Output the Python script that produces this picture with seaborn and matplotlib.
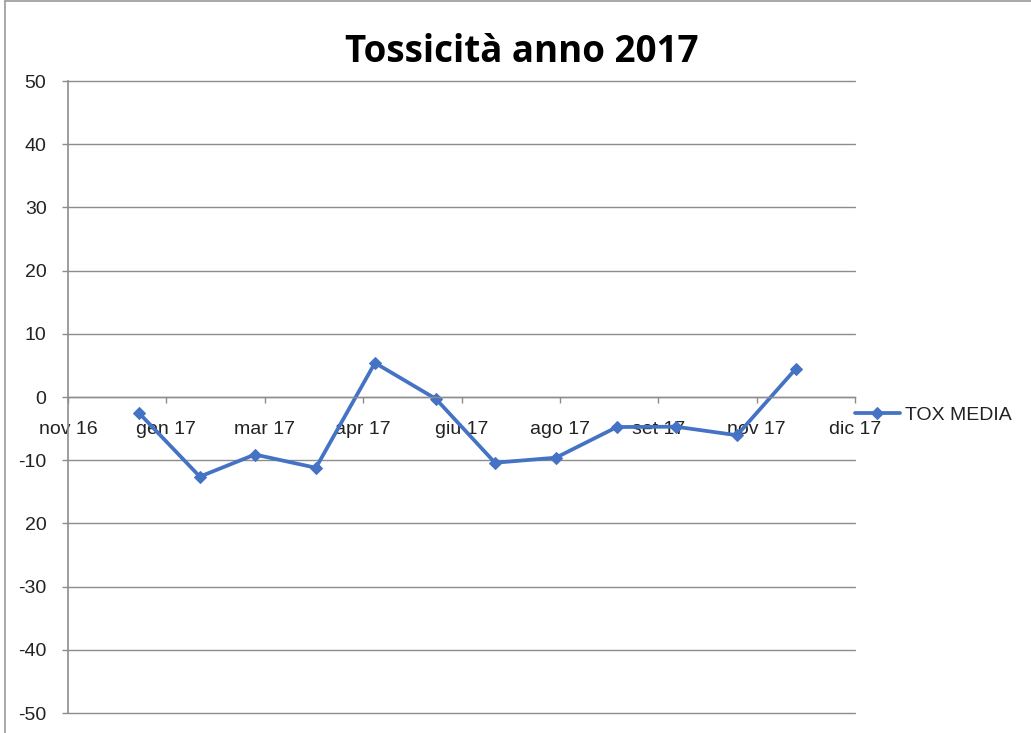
import numpy as np
import pandas as pd
import matplotlib
matplotlib.use("Agg")
import matplotlib.pyplot as plt
import matplotlib.dates as mdates
import seaborn as sns

# ---- data ----
months = pd.date_range("2017-01-01", "2017-12-01", freq="MS")
tox_media = [-2.5, -12.6, -9.1, -11.2, 5.4, -0.3, -10.4, -9.6, -4.75, -4.7, -6.05, 4.5]
series_name = "TOX MEDIA"
x_tick_labels = ["nov 16", "gen 17", "mar 17", "apr 17", "giu 17", "ago 17", "set 17", "nov 17", "dic 17"]
y_ticks = [-50, -40, -30, -20, -10, 0, 10, 20, 30, 40, 50]
y_tick_labels = ["-50", "-40", "-30", "20", "-10", "0", "10", "20", "30", "40", "50"]
axis_start = pd.Timestamp("2016-11-26")
tick_step_days = 50
title = "Tossicità anno 2017"

sns.set_theme(style="white")
plt.rcParams["font.family"] = ["Liberation Sans", "DejaVu Sans"]

W, H = 1031, 733
fig = plt.figure(figsize=(W / 100, H / 100), dpi=100)
ax = fig.add_axes([68 / W, (H - 713) / H, (855 - 68) / W, (713 - 81) / H])

df = pd.DataFrame({"date": months, "value": tox_media})
sns.lineplot(data=df, x="date", y="value", ax=ax, color="#4472C4", linewidth=2.7,
             marker="D", markersize=6.5, markeredgecolor="#4472C4", label=series_name)

tick_dates = [axis_start + pd.Timedelta(days=tick_step_days * i) for i in range(len(x_tick_labels))]
ax.set_xlim(tick_dates[0], tick_dates[-1])
ax.set_ylim(-50, 50)
ax.set_xticks(tick_dates)
ax.set_xticklabels(x_tick_labels)
ax.set_yticks(y_ticks)
ax.set_yticklabels(y_tick_labels)
ax.set_xlabel("")
ax.set_ylabel("")

grid_c = "#8c8c8c"
ax.yaxis.grid(True, color=grid_c, linewidth=1.0)
ax.xaxis.grid(False)
ax.set_axisbelow(True)
for gl in ax.get_ygridlines():
    gl.set_clip_on(False)
for s in ["top", "right"]:
    ax.spines[s].set_visible(False)
ax.spines["left"].set_color(grid_c)
ax.spines["left"].set_linewidth(1.2)
ax.spines["bottom"].set_position(("data", 0))
ax.spines["bottom"].set_color(grid_c)
ax.spines["bottom"].set_linewidth(1.0)

ax.tick_params(axis="y", which="major", left=True, length=4.5, width=1, color=grid_c,
               pad=11, labelsize=14, labelcolor="#222222")
ax.tick_params(axis="x", which="major", bottom=True, length=4, width=1, color=grid_c,
               pad=13, labelsize=14, labelcolor="#222222")

fig.text(522 / W, 1 - 52 / H, title, fontsize=26.5, fontweight="bold",
         fontfamily=["Open Sans", "DejaVu Sans"], color="black", ha="center", va="center")

leg = ax.legend(loc="center left", bbox_to_anchor=(0.99, 0.471), frameon=False,
                fontsize=14, handlelength=2.3, handletextpad=0.3, borderaxespad=0.0)
for t in leg.get_texts():
    t.set_color("#222222")

# outer chart frame (partially visible at top/left)
fig.add_artist(plt.Line2D([4.5 / W, 4.5 / W], [0, 1 - 1 / H], transform=fig.transFigure,
                          color="#9a9a9a", linewidth=1.2))
fig.add_artist(plt.Line2D([4.5 / W, 1], [1 - 1 / H, 1 - 1 / H], transform=fig.transFigure,
                          color="#9a9a9a", linewidth=1.2))

fig.savefig("out.png", dpi=100)
